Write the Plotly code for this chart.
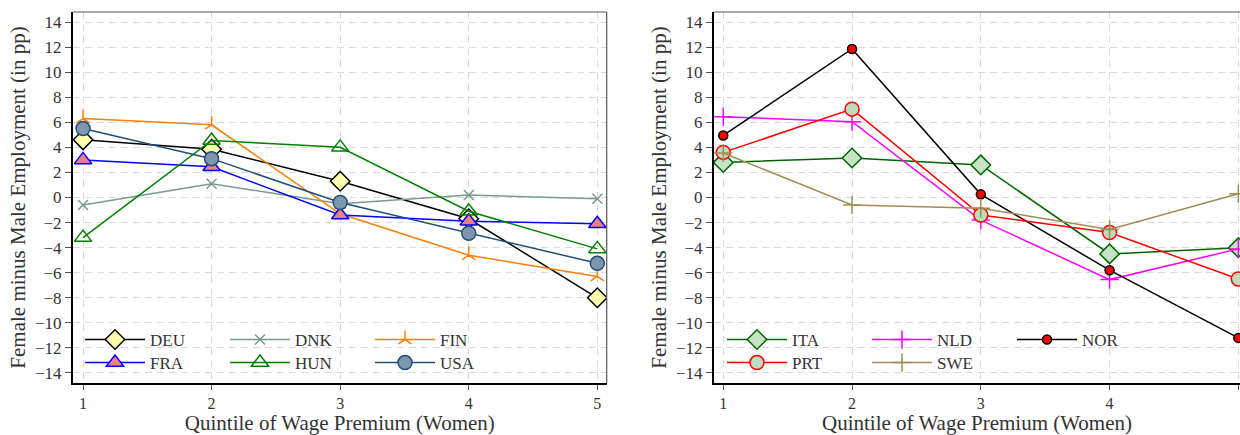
import plotly.graph_objects as go

# ---------------- data ----------------
quintiles = [1, 2, 3, 4, 5]
x_tick_labels = ["1", "2", "3", "4", "5"]
y_tick_values = [-14, -12, -10, -8, -6, -4, -2, 0, 2, 4, 6, 8, 10, 12, 14]

left_countries = ["DEU", "DNK", "FIN", "FRA", "HUN", "USA"]
deu = [4.6, 3.85, 1.3, -1.7, -8.0]
dnk = [-0.6, 1.1, -0.5, 0.2, -0.1]
fin = [6.3, 5.8, -1.3, -4.6, -6.3]
fra = [3.0, 2.45, -1.4, -1.9, -2.1]
hun = [-3.2, 4.55, 4.0, -1.1, -4.1]
usa = [5.5, 3.1, -0.4, -2.85, -5.25]

right_countries = ["ITA", "NLD", "NOR", "PRT", "SWE"]
ita = [2.8, 3.15, 2.6, -4.5, -4.0]
nld = [6.45, 6.05, -1.8, -6.55, -4.1]
nor = [4.95, 11.85, 0.25, -5.8, -11.2]
prt = [3.6, 7.05, -1.4, -2.8, -6.5]
swe = [3.55, -0.6, -0.85, -2.55, 0.3]

x_title = "Quintile of Wage Premium (Women)"
y_title = "Female minus Male Employment (in pp)"

# ---------------- styles ----------------
FONT = "Liberation Serif, Times New Roman, serif"
styles = {
    "DEU": dict(line="#000000", symbol="diamond", fill="#ffffb0", edge="#000000", size=15, legend="legend"),
    "DNK": dict(line="#7a9a8c", symbol="x-thin-open", fill="#7a9a8c", edge="#7a9a8c", size=10, legend="legend"),
    "FIN": dict(line="#ff8000", symbol="y-up-open", fill="#ff8000", edge="#ff8000", size=11, legend="legend"),
    "FRA": dict(line="#0000ff", symbol="triangle-up", fill="#f08080", edge="#0000ff", size=15, legend="legend2"),
    "HUN": dict(line="#008000", symbol="triangle-up-open", fill="#008000", edge="#008000", size=15, legend="legend2"),
    "USA": dict(line="#1f4e79", symbol="circle", fill="#7f96ad", edge="#1f4e79", size=14, legend="legend2"),
    "ITA": dict(line="#006400", symbol="diamond", fill="#c6e3c6", edge="#006400", size=15, legend="legend3"),
    "NLD": dict(line="#ff00ff", symbol="cross-thin-open", fill="#ff00ff", edge="#ff00ff", size=13, legend="legend3"),
    "NOR": dict(line="#000000", symbol="circle", fill="#ff0000", edge="#000000", size=9, legend="legend3"),
    "PRT": dict(line="#ff0000", symbol="circle", fill="#bfdcbf", edge="#ff0000", size=14, legend="legend4"),
    "SWE": dict(line="#a08c55", symbol="cross-thin-open", fill="#a08c55", edge="#a08c55", size=13, legend="legend4"),
}

left_values = [deu, dnk, fin, fra, hun, usa]
right_values = [ita, nld, nor, prt, swe]

fig = go.Figure()

def add_series(name, values, xa, ya):
    s = styles[name]
    fig.add_trace(go.Scatter(
        x=quintiles, y=values, name=name, mode="lines+markers",
        xaxis=xa, yaxis=ya, legend=s["legend"],
        line=dict(color=s["line"], width=1.5),
        marker=dict(symbol=s["symbol"], size=s["size"], color=s["fill"],
                    line=dict(color=s["edge"], width=1.5)),
    ))

for n, v in zip(left_countries, left_values):
    add_series(n, v, "x", "y")
for n, v in zip(right_countries, right_values):
    add_series(n, v, "x2", "y2")

W, H = 1240, 435
ML, MR, MT, MB = 73, 0, 12, 52
PW = W - ML - MR
PH = H - MT - MB

def px_x(px):
    return (px - ML) / PW

def px_y(py):
    return (H - MB - py) / PH

grid = dict(showgrid=True, gridcolor="#dadada", gridwidth=1.4, griddash="7px,5px")

def xaxis(domain, rng, anchor):
    return dict(domain=domain, range=rng, anchor=anchor, tickmode="array",
                tickvals=quintiles, ticktext=x_tick_labels, ticks="outside",
                ticklen=5, tickwidth=1, tickcolor="#555555",
                tickfont=dict(family=FONT, size=16, color="#333333"),
                showline=True, linecolor="#000000", linewidth=2, zeroline=False,
                title=dict(text=x_title, font=dict(family=FONT, size=21, color="#333333"),
                           standoff=9), **grid)

def yaxis(anchor):
    return dict(range=[-14.8, 14.8], anchor=anchor, tickmode="array",
                tickvals=y_tick_values, ticks="outside", ticklen=6, tickwidth=1,
                tickcolor="#555555",
                tickfont=dict(family=FONT, size=17, color="#333333"), showline=True,
                linecolor="#000000", linewidth=2, zeroline=False,
                title=dict(text=y_title, font=dict(family=FONT, size=21, color="#333333"),
                           standoff=4), **grid)

left_dom = [0, px_x(606.7)]
right_dom = [px_x(714), 1]

def legend_box(xpx, ypx):
    return dict(x=px_x(xpx), y=px_y(ypx), orientation="h",
                bgcolor="rgba(0,0,0,0)", borderwidth=0,
                font=dict(family=FONT, size=17, color="#333333"),
                entrywidth=70, entrywidthmode="pixels", itemwidth=60,
                yanchor="middle", xanchor="left", traceorder="normal")

fig.update_layout(
    width=W, height=H,
    margin=dict(l=ML, r=MR, t=MT, b=MB, pad=0),
    paper_bgcolor="white", plot_bgcolor="white",
    xaxis=xaxis(left_dom, [0.922, 5.073], "y"),
    yaxis=yaxis("x"),
    xaxis2=xaxis(right_dom, [0.928, 5.013], "y2"),
    yaxis2=yaxis("x2"),
    legend=legend_box(80, 340),
    legend2=legend_box(80, 363),
    legend3=legend_box(722, 340),
    legend4=legend_box(722, 363),
    shapes=[
        dict(type="line", xref="x domain", yref="y domain", x0=0, x1=1, y0=1, y1=1,
             line=dict(color="#555555", width=1.2)),
        dict(type="line", xref="x domain", yref="y domain", x0=1, x1=1, y0=0, y1=1,
             line=dict(color="#555555", width=1.2)),
        dict(type="line", xref="x2 domain", yref="y2 domain", x0=0, x1=1, y0=1, y1=1,
             line=dict(color="#555555", width=1.2)),
    ],
)

fig.write_html("out.html")
